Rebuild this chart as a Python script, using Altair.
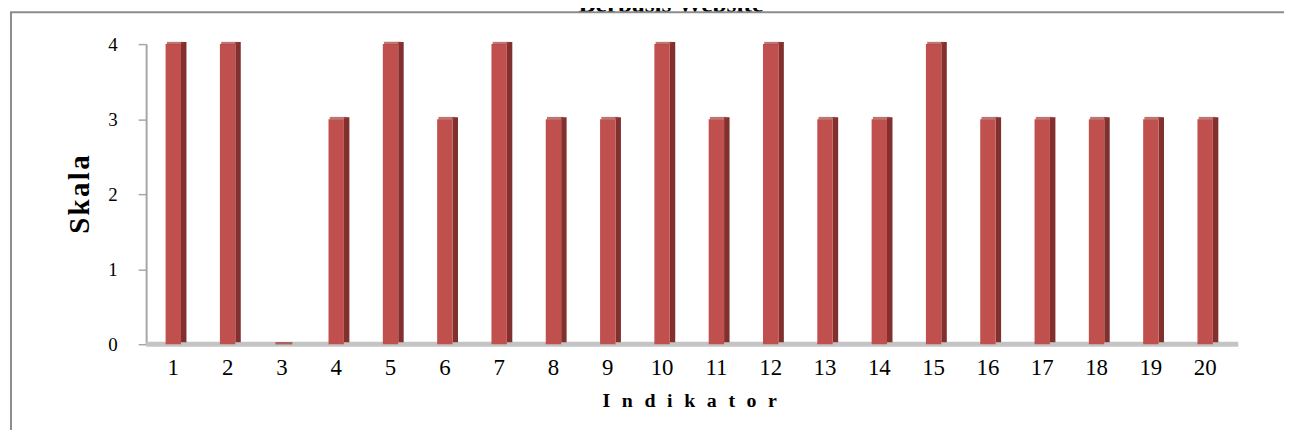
import altair as alt
import pandas as pd

# ---- data ----
indikator = [str(i) for i in range(1, 21)]
skala = [4, 4, 0, 3, 4, 3, 4, 3, 3, 4, 3, 4, 3, 3, 4, 3, 3, 3, 3, 3]
y_ticks = [0, 1, 2, 3, 4]
chart_title = "Berbasis Website"
x_title = "\u2002\u200a".join("Indikator")
y_title = "\u200a".join("Skala")

df = pd.DataFrame({"indikator": indikator, "skala": skala})
one = alt.Data(values=[{"k": 1}])

W, H = 1093, 302
PAD_L, PAD_T = 139, 35
FONT = "Liberation Serif"
FRONT = "#C0504D"
SIDE = "#82302D"
CAP = "#9E3B38"
GRAY = "#A6A6A6"

x_enc = alt.X(
    "indikator:N",
    sort=indikator,
    scale=alt.Scale(paddingInner=0, paddingOuter=0),
    axis=alt.Axis(
        title=x_title, labelAngle=0, ticks=False, domain=False,
        labelPadding=12, labelFontSize=23, labelFont=FONT, labelColor="black",
        titleFont=FONT, titleFontSize=20, titleFontWeight="bold", titleColor="black",
        titleY=57, titleBaseline="middle",
    ),
)
y_enc = alt.Y(
    "skala:Q",
    scale=alt.Scale(domain=[0, 4], nice=False),
    axis=alt.Axis(
        title=y_title, values=y_ticks, format="d", grid=False,
        domainColor=GRAY, domainWidth=2, tickColor=GRAY, tickWidth=1.5, tickSize=8,
        labelPadding=21, labelFontSize=19, labelFont=FONT, labelColor="black",
        titleFont=FONT, titleFontSize=29, titleFontWeight="bold", titleColor="black",
        titleX=-67, titleY=H / 2, titleAngle=-90, titleBaseline="middle", titleAlign="center",
    ),
)

frame_left = alt.Chart(one).mark_rule(color="#8C8C8C", strokeWidth=2).encode(
    x=alt.value(-136), y=alt.value(-32), y2=alt.value(400)
)
frame_top = alt.Chart(one).mark_rule(color="#8C8C8C", strokeWidth=2).encode(
    x=alt.value(-137), x2=alt.value(1160), y=alt.value(-32)
)
title = alt.Chart(one).mark_text(
    text=chart_title, font=FONT, fontSize=25.5, fontWeight="bold",
    align="center", baseline="alphabetic", color="black"
).encode(x=alt.value(528), y=alt.value(-32))

floor = alt.Chart(one).mark_rule(color="#C4C4C4", strokeWidth=5).encode(
    y=alt.datum(0), x=alt.value(0), x2=alt.value(W + 6)
)

side = alt.Chart(df).mark_bar(color=SIDE, width=5.5, xOffset=10.5, yOffset=-2).encode(
    x=x_enc, y=y_enc
)
front = alt.Chart(df).mark_bar(color=FRONT, width=15.5).encode(x=x_enc, y=y_enc)
cap = alt.Chart(df).mark_tick(color=CAP, thickness=2.5, size=17, xOffset=2, yOffset=-1).encode(
    x=x_enc, y=y_enc
)

chart = alt.layer(title, frame_left, frame_top, floor, side, front, cap).properties(
    width=W, height=H,
    autosize=alt.AutoSizeParams(type="none"),
    padding={"left": PAD_L, "top": PAD_T, "right": 52, "bottom": 85},
).configure_view(stroke=None)

chart.save("out.html", embed_options={"renderer": "svg", "actions": False})
